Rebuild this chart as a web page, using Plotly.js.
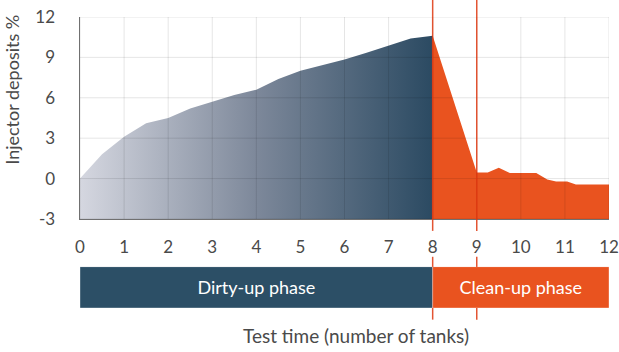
<!DOCTYPE html>
<html>
<head>
<meta charset="utf-8">
<script src="https://cdn.plot.ly/plotly-3.0.1.min.js"></script>
<style>
  html, body { margin: 0; padding: 0; background: #ffffff; }
  #chart { width: 619px; height: 352px; }
</style>
</head>
<body>
<div id="chart"></div>
<script>
// ---- Data ----
const dirtyX = [0, 0.5, 1, 1.5, 2, 2.5, 3, 3.5, 4, 4.5, 5, 5.5, 6, 6.5, 7, 7.5, 8];
const dirtyY = [0, 1.8, 3.1, 4.1, 4.5, 5.2, 5.7, 6.2, 6.6, 7.4, 8.0, 8.4, 8.85, 9.35, 9.85, 10.4, 10.6];
const cleanX = [8, 9, 9.25, 9.5, 9.75, 10.35, 10.6, 10.8, 11.05, 11.25, 12];
const cleanY = [10.6, 0.45, 0.45, 0.8, 0.42, 0.42, -0.07, -0.22, -0.22, -0.45, -0.45];
const phaseNames = ['Dirty-up phase', 'Clean-up phase'];
const phaseStart = [0, 8];
const phaseEnd = [8, 12];
const markerLines = [8, 9];
const yTickVals = [-3, 0, 3, 6, 9, 12];
const yTickText = ['-3', '0', '3', '6', '9', '12'];
const xTickVals = [0, 1, 2, 3, 4, 5, 6, 7, 8, 9, 10, 11, 12];

// ---- Styling ----
const DARK = '#2c4f66';
const ORANGE = '#e9531f';
const TEXT = '#4a4a4a';
const FONT = 'Lato, "Open Sans", sans-serif';
const yMin = yTickVals[0], yMax = yTickVals[yTickVals.length - 1];
const xMin = xTickVals[0], xMax = xTickVals[xTickVals.length - 1];

const baseDirty = {
  x: [dirtyX[0], dirtyX[dirtyX.length - 1]], y: [yMin, yMin],
  mode: 'lines', line: {width: 0}, showlegend: false, hoverinfo: 'skip'
};
const dirty = {
  x: dirtyX, y: dirtyY, mode: 'lines', fill: 'tonexty',
  line: {width: 0},
  fillgradient: {type: 'horizontal', colorscale: [[0, '#d5d7e0'], [0.5, '#7d889a'], [1, '#2b4a62']]},
  showlegend: false, hoverinfo: 'skip'
};
const baseClean = {
  x: [cleanX[0], cleanX[cleanX.length - 1]], y: [yMin, yMin],
  mode: 'lines', line: {width: 0}, showlegend: false, hoverinfo: 'skip'
};
const clean = {
  x: cleanX, y: cleanY, mode: 'lines', fill: 'tonexty',
  line: {width: 0}, fillcolor: ORANGE,
  showlegend: false, hoverinfo: 'skip'
};
const phases = {
  type: 'bar', orientation: 'h',
  y: phaseNames.map(() => 0),
  x: phaseEnd.map((e, i) => e - phaseStart[i]),
  base: phaseStart,
  width: 1,
  xaxis: 'x', yaxis: 'y2',
  marker: {color: [DARK, ORANGE], line: {color: 'rgba(255,255,255,0.35)', width: 1}},
  text: phaseNames, textposition: 'inside', insidetextanchor: 'middle',
  textfont: {color: '#ffffff', size: 18, family: FONT},
  showlegend: false, hoverinfo: 'skip'
};

// Grid lines drawn above the fills
const shapes = [];
xTickVals.forEach(v => shapes.push({
  type: 'line', xref: 'x', yref: 'y', x0: v, x1: v, y0: yMin, y1: yMax,
  line: {color: 'rgba(0,0,0,0.10)', width: 1}, layer: 'above'
}));
yTickVals.forEach(v => shapes.push({
  type: 'line', xref: 'x', yref: 'y', x0: xMin, x1: xMax, y0: v, y1: v,
  line: {color: 'rgba(0,0,0,0.10)', width: 1}, layer: 'above'
}));
// Phase boundary markers (the lower segment sits behind the phase bar)
markerLines.forEach(v => {
  shapes.push({type: 'line', xref: 'x', yref: 'paper', x0: v, x1: v, y0: 0.265, y1: 1.06,
    line: {color: 'rgba(222,55,15,0.85)', width: 1.5}, layer: 'above'});
  shapes.push({type: 'line', xref: 'x', yref: 'paper', x0: v, x1: v, y0: -0.04, y1: 0.176,
    line: {color: 'rgba(222,55,15,0.85)', width: 1.5}, layer: 'below'});
});

const layout = {
  width: 619, height: 352,
  margin: {l: 80, r: 10, t: 17, b: 44},
  paper_bgcolor: '#ffffff', plot_bgcolor: 'rgba(0,0,0,0)',
  font: {family: FONT, color: TEXT, size: 17},
  barmode: 'overlay',
  xaxis: {
    range: [xMin, xMax], anchor: 'y', tickvals: xTickVals,
    showgrid: false, zeroline: false,
    showline: true, linecolor: '#707070', linewidth: 1.5,
    ticks: '', ticklabelstandoff: 12,
    tickfont: {size: 17, color: TEXT, family: FONT},
    layer: 'above traces', fixedrange: true
  },
  yaxis: {
    domain: [0.306, 1], range: [yMin, yMax],
    tickvals: yTickVals, ticktext: yTickText,
    showgrid: false, zeroline: false,
    showline: true, linecolor: '#707070', linewidth: 1.5,
    ticks: '', ticklabelstandoff: 20,
    tickfont: {size: 17, color: TEXT, family: FONT},
    layer: 'above traces', fixedrange: true
  },
  yaxis2: {
    domain: [0, 0.142], range: [-0.5, 0.5], visible: false, fixedrange: true
  },
  shapes: shapes,
  annotations: [
    {text: 'Test time (number of tanks)', xref: 'paper', yref: 'paper',
      x: 0.522, y: -0.096, xanchor: 'center', yanchor: 'middle', showarrow: false,
      font: {size: 19, color: TEXT, family: FONT}},
    {text: 'Injector deposits %', xref: 'paper', yref: 'paper',
      x: -0.128, y: 0.751, xanchor: 'center', yanchor: 'middle', textangle: -90, showarrow: false,
      font: {size: 18, color: TEXT, family: FONT}}
  ]
};

Plotly.newPlot('chart', [baseDirty, dirty, baseClean, clean, phases], layout,
  {displayModeBar: false, staticPlot: true});
</script>
</body>
</html>
